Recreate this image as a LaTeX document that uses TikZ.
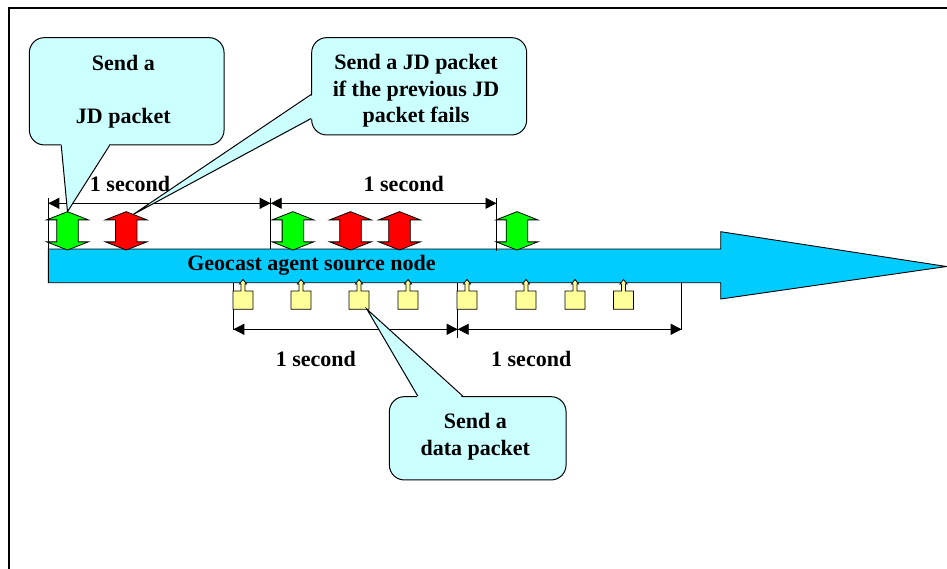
\documentclass[tikz,border=0pt]{standalone}
\usepackage{fontspec}
\setmainfont{Liberation Serif}
\usetikzlibrary{arrows.meta,calc}
\definecolor{barblue}{HTML}{00CCFF}
\definecolor{notefill}{HTML}{CCFFFF}
\definecolor{pktyellow}{HTML}{FFFF99}
\definecolor{jdgreen}{HTML}{00FF00}
\definecolor{jdred}{HTML}{FF0000}

\begin{document}
\begin{tikzpicture}[x=1pt,y=-1pt,
  lbl/.style={font=\fontsize{22}{26.7}\selectfont\bfseries, inner sep=0pt, align=center},
  notebox/.style={draw=black, line width=1pt, fill=notefill, rounded corners=15pt, inner sep=0pt},
  pointer/.style={draw=black, line width=1pt, line join=miter},
  tickline/.style={line width=0.9pt},
  dimline/.style={line width=0.9pt, {Triangle[length=11pt,width=11pt]}-{Triangle[length=11pt,width=11pt]}},
  jd/.pic={
    \draw[line width=0.8pt, fill=#1]
      (0,-19.2) -- (20.8,-11) -- (10.8,-11) -- (10.8,11) -- (20.8,11) -- (0,19.2)
      -- (-20.8,11) -- (-10.8,11) -- (-10.8,-11) -- (-20.8,-11) -- cycle;
    \coordinate (-top) at (0,-19.2);
    \coordinate (-slope) at (7,-16.4);
  },
  pkt/.pic={
    \draw[line width=0.8pt, fill=pktyellow]
      (0,-11.5) -- (3.6,-7) -- (2,-7) -- (2,0) -- (10,0) -- (10,18.3) -- (-10,18.3)
      -- (-10,0) -- (-2,0) -- (-2,-7) -- (-3.6,-7) -- cycle;
    \coordinate (-corner) at (8,18.3);
  }
]
\useasboundingbox (0,0) rectangle (947,568);

% outer frame
\draw[line width=1.8pt] (9,8) rectangle (990,600);

% timeline arrow of the source node
\draw[line width=0.9pt, fill=barblue]
  (48.3,249) -- (720.7,249) -- (720.7,231.7) -- (946.5,266.5) -- (720.7,299)
  -- (720.7,282.7) -- (48.3,282.7) -- cycle;
\node[lbl, anchor=base] (bar) at (311.5,270) {Geocast agent source node};

% one-second marks above the timeline
\coordinate (ua) at (48.3,198);   \coordinate (ua') at (48.3,249);
\coordinate (ub) at (270.7,198);  \coordinate (ub') at (270.7,249);
\coordinate (uc) at (496.5,198);  \coordinate (uc') at (496.5,251);
\draw[tickline] (ua) -- (ua');
\draw[tickline] (ub) -- (ub');
\draw[tickline] (uc) -- (uc');
\coordinate (uda) at (48.3,203.3);
\coordinate (udb) at (270.7,203.3);
\coordinate (udc) at (496.5,203.3);
\draw[dimline] (uda) -- (udb);
\draw[dimline] (udb) -- (udc);
\node[lbl, anchor=base] (us1) at (130,191.7) {1 second};
\node[lbl, anchor=base] (us2) at (403.7,191.5) {1 second};

% JD packets
\pic (g1) at (67.5,230.85) {jd=jdgreen};
\pic (r1) at (126.2,230.85) {jd=jdred};
\pic (g2) at (292.9,230.85) {jd=jdgreen};
\pic (r2) at (350.5,230.85) {jd=jdred};
\pic (r3) at (399.5,230.85) {jd=jdred};
\pic (g3) at (517,230.85) {jd=jdgreen};

% one-second marks below the timeline
\coordinate (la) at (233.3,283);  \coordinate (la') at (233.3,330);
\coordinate (lb) at (457.7,283);  \coordinate (lb') at (457.7,338);
\coordinate (lc) at (681.7,283);  \coordinate (lc') at (681.7,330);
\draw[tickline] (la) -- (la');
\draw[tickline] (lb) -- (lb');
\draw[tickline] (lc) -- (lc');
\coordinate (lda) at (233.3,329.3);
\coordinate (ldb) at (457.7,329.3);
\coordinate (ldc) at (681.7,329.3);
\draw[dimline] (lda) -- (ldb);
\draw[dimline] (ldb) -- (ldc);
\node[lbl, anchor=base] (ls1) at (315.8,366.7) {1 second};
\node[lbl, anchor=base] (ls2) at (531.2,366.7) {1 second};

% data packets
\pic (p1) at (243,291) {pkt};
\pic (p2) at (301,291) {pkt};
\pic (p3) at (359,291) {pkt};
\pic (p4) at (408,291) {pkt};
\pic (p5) at (467,291) {pkt};
\pic (p6) at (526,291) {pkt};
\pic (p7) at (575,291) {pkt};
\pic (p8) at (623.5,291) {pkt};

% callout: first JD packet
\node[notebox, minimum width=194.7pt, minimum height=107.3pt] (c1) at (126.7,91.3) {};
\coordinate (c1a) at ($(c1.south west)+(32.4,0)$);
\coordinate (c1b) at ($(c1.south west)+(80.7,0)$);
\fill[notefill] ($(c1a)+(0,-2)$) -- (g1-top) -- ($(c1b)+(0,-2)$) -- cycle;
\draw[pointer] (c1a) -- (g1-top) -- (c1b);
\node[lbl] (t1) at (123.3,92) {Send a\\[25.9pt]JD packet};

% callout: repeated JD packet
\node[notebox, minimum width=215pt, minimum height=97.3pt] (c2) at (419.2,86.3) {};
\coordinate (c2a) at ($(c2.north west)+(0,57.3)$);
\coordinate (c2b) at ($(c2.north west)+(0,81.3)$);
\fill[notefill] ($(c2a)+(2,0)$) -- (r1-slope) -- ($(c2b)+(2,0)$) -- cycle;
\draw[pointer] (c2a) -- (r1-slope) -- (c2b);
\node[lbl] (t2) at (416,91) {Send a JD packet\\if the previous JD\\packet fails};

% callout: data packet
\node[notebox, minimum width=176.7pt, minimum height=83.3pt] (c3) at (477.7,438.3) {};
\coordinate (c3a) at ($(c3.north west)+(29,0)$);
\coordinate (c3b) at ($(c3.north west)+(74,0)$);
\fill[notefill] ($(c3a)+(0,2)$) -- (p3-corner) -- ($(c3b)+(0,2)$) -- cycle;
\draw[pointer] (c3a) -- (p3-corner) -- (c3b);
\node[lbl] (t3) at (475.3,436.6) {Send a\\data packet};
\end{tikzpicture}
\end{document}
